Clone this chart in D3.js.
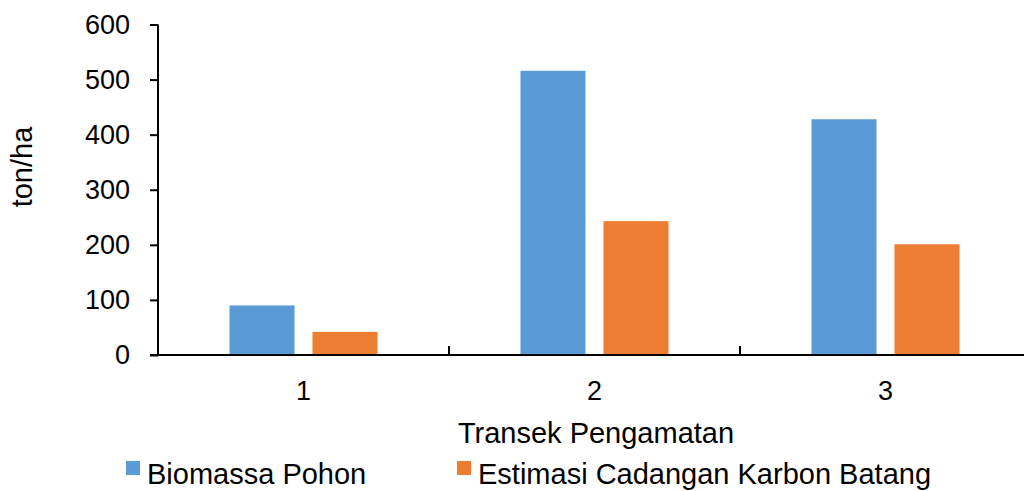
<!DOCTYPE html>
<html><head><meta charset="utf-8">
<script src="https://cdn.jsdelivr.net/npm/d3@7"></script>
<style>body{margin:0;background:#fff}svg{display:block;font-family:"Liberation Sans",Arial,sans-serif}</style>
</head><body><svg id="c" width="1024" height="491"></svg>
<script>
const categories = ["1","2","3"];
const seriesNames = ["Biomassa Pohon","Estimasi Cadangan Karbon Batang"];
const biomassa = [90, 516, 428];
const karbon = [42, 243, 201];
const yTicks = [0,100,200,300,400,500,600];
const colors = ["#5B9BD5","#ED7D31"];

const svg = d3.select("#c");
const x0 = 158, x1 = 158 + 3*291, yTop = 24.5, yBot = 355;
const x = d3.scaleBand().domain(categories).range([x0, x1]).paddingInner(0).paddingOuter(0);
const y = d3.scaleLinear().domain([0,600]).range([yBot, yTop]);
const barW = 65, gap = 18;
const data = categories.map((c,i)=>({c, vals:[biomassa[i], karbon[i]]}));

// bars
data.forEach(d=>{
  const cx = x(d.c) + x.bandwidth()/2;
  d.vals.forEach((v,j)=>{
    const bx = j===0 ? cx - gap/2 - barW : cx + gap/2;
    svg.append("rect").attr("x", bx).attr("y", y(v)).attr("width", barW).attr("height", yBot - y(v))
      .attr("fill", colors[j]);
  });
});

// y axis
const yAxis = d3.axisLeft(y).tickValues(yTicks).tickSize(8).tickPadding(20).tickFormat(d3.format("d"));
const gy = svg.append("g").attr("transform",`translate(${x0},0)`).call(yAxis);
gy.select(".domain").attr("stroke","#000").attr("stroke-width",2).attr("d",`M0,${yTop}V${yBot}`);
gy.selectAll(".tick line").attr("stroke","#000").attr("stroke-width",2);
gy.selectAll("text").attr("font-size",27).attr("fill","#000").attr("font-family","Liberation Sans, Arial, sans-serif");

// x axis
const xAxis = d3.axisBottom(x).tickSize(0).tickPadding(26);
const gx = svg.append("g").attr("transform",`translate(0,${yBot})`).call(xAxis);
gx.select(".domain").attr("stroke","#000").attr("stroke-width",2).attr("d",`M${x0-8},0H${x1}`);
gx.selectAll("text").attr("font-size",27).attr("fill","#000").attr("font-family","Liberation Sans, Arial, sans-serif");
// category separators
const seps = categories.slice(1).map(c=>x(c));
gx.selectAll(".sep").data(seps).enter().append("line").attr("class","sep")
  .attr("x1",d=>d).attr("x2",d=>d).attr("y1",0).attr("y2",-9).attr("stroke","#000").attr("stroke-width",2);

// axis titles
svg.append("text").attr("x",596).attr("y",443).attr("text-anchor","middle")
  .attr("font-size",29).text("Transek Pengamatan");
svg.append("text").attr("transform","translate(32,167) rotate(-90)").attr("text-anchor","middle")
  .attr("font-size",29).text("ton/ha");

// legend
const legX = [126, 457];
seriesNames.forEach((n,i)=>{
  svg.append("rect").attr("x",legX[i]).attr("y",461).attr("width",14).attr("height",14).attr("fill",colors[i]);
  svg.append("text").attr("x",legX[i]+21).attr("y",484).attr("font-size",29).text(n);
});
</script></body></html>
